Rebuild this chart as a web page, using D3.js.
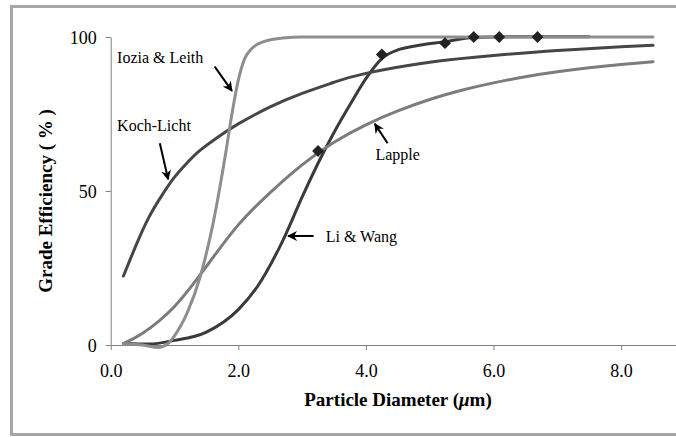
<!DOCTYPE html>
<html>
<head>
<meta charset="utf-8">
<script src="https://cdn.jsdelivr.net/npm/d3@7"></script>
<style>
  html, body { margin: 0; padding: 0; background: #fff; }
  svg { display: block; }
  text { font-family: "Liberation Serif", "DejaVu Serif", "Times New Roman", Times, serif; }
</style>
</head>
<body>
<svg id="chart" width="676" height="437"></svg>
<script>
// ---- data ----
const xTicks = [0, 2, 4, 6, 8];
const yTicks = [0, 50, 100];

const iozia = [[0.2,0.3],[0.5,0],[0.75,-0.8],[0.9,0.5],[1.0,3],[1.2,10.5],[1.4,22],[1.6,39],[1.8,62],[1.9,75],[2.0,86],[2.1,93],[2.2,96],[2.4,98.5],[2.7,99.7],[3.0,100],[4.0,100],[5.0,100],[6.0,100],[7.0,100],[8.0,100],[8.5,100]];
const koch = [[0.2,22.4],[0.4,32.5],[0.6,41.5],[0.8,48.5],[1.0,54.5],[1.2,59.2],[1.4,63.2],[1.7,67.8],[2.0,71.8],[2.5,77.3],[3.0,81.7],[3.5,85.3],[4.0,88.2],[5.0,91.8],[6.0,94],[7.0,95.6],[8.0,96.8],[8.5,97.3]];
const lapple = [[0.2,0.5],[0.5,3.8],[1.0,12.5],[1.5,25.5],[2.0,39],[2.5,49.5],[3.0,58.5],[3.5,65.8],[4.0,71.5],[4.5,76],[5.0,79.7],[5.5,82.7],[6.0,85.1],[6.5,87.1],[7.0,88.7],[7.5,90],[8.0,91.1],[8.5,92]];
const liwang = [[0.2,0.5],[0.6,0.3],[1.0,1.5],[1.5,4.2],[2.0,11.5],[2.3,19],[2.7,34],[3.0,48],[3.25,59],[3.5,69],[3.75,78],[4.0,86.5],[4.25,93],[4.5,95.8],[4.75,97],[5.25,98.5],[5.68,99.8],[6.5,100.1],[7.5,100.1]];
const measured = [[3.25,63],[4.25,94.3],[5.24,98],[5.69,100],[6.09,100],[6.69,100]];

const labels = [
  {text: "Iozia & Leith", x: 0.1, y: 91.6, ax1: 1.63, ay1: 90.4, ax2: 1.9, ay2: 82.5},
  {text: "Koch-Licht", x: 0.1, y: 69.5, ax1: 0.77, ay1: 65.5, ax2: 0.9, ay2: 53.8},
  {text: "Lapple", x: 4.15, y: 60, ax1: 4.34, ay1: 65.5, ax2: 4.14, ay2: 71.8},
  {text: "Li & Wang", x: 3.37, y: 33.4, ax1: 3.18, ay1: 35.4, ax2: 2.78, ay2: 35.4}
];

// ---- chart ----
const svg = d3.select("#chart");
const x = d3.scaleLinear().domain([0, 9]).range([110.7, 110.7 + 9 * 63.8]);
const y = d3.scaleLinear().domain([0, 100]).range([345, 37]);

// outer frame
svg.append("rect").attr("x", 11.5).attr("y", 6.5).attr("width", 720).attr("height", 428)
  .attr("fill", "none").attr("stroke", "#a6a6a6").attr("stroke-width", 3);

// axes
const xAxis = svg.append("g").attr("transform", `translate(0,${y(0)})`)
  .call(d3.axisBottom(x).tickValues(xTicks).tickSize(5).tickSizeOuter(0).tickFormat(d3.format(".1f")));
const yAxis = svg.append("g").attr("transform", `translate(${x(0)},0)`)
  .call(d3.axisLeft(y).tickValues(yTicks).tickSize(5).tickSizeOuter(0));
[xAxis, yAxis].forEach(g => {
  g.attr("font-family", null).attr("font-size", null);
  g.select(".domain").attr("stroke", "#808080");
  g.selectAll(".tick line").attr("stroke", "#808080");
  g.selectAll("text").attr("fill", "#000").style("font-size", "18px");
});
xAxis.selectAll("text").attr("dy", "0").attr("y", 32);
yAxis.selectAll("text").attr("x", -14).attr("dy", "0.34em");

// lines
const lineMono = d3.line().x(d => x(d[0])).y(d => y(d[1])).curve(d3.curveMonotoneX);
const lineNat = d3.line().x(d => x(d[0])).y(d => y(d[1])).curve(d3.curveNatural);
const series = [
  {data: liwang, color: "#3a3a3a", gen: lineMono},
  {data: koch, color: "#464646", gen: lineNat},
  {data: lapple, color: "#7c7c7c", gen: lineNat},
  {data: iozia, color: "#8e8e8e", gen: lineMono}
];
svg.append("g").selectAll("path").data(series).join("path")
  .attr("d", d => d.gen(d.data)).attr("fill", "none")
  .attr("stroke", d => d.color).attr("stroke-width", 3).attr("stroke-linecap", "round");

// measured points (diamonds)
svg.append("g").selectAll("path").data(measured).join("path")
  .attr("transform", d => `translate(${x(d[0])},${y(d[1])})`)
  .attr("d", d3.symbol(d3.symbolDiamond2, 90)())
  .attr("fill", "#222");

// annotations
const defs = svg.append("defs");
defs.append("marker").attr("id", "ah").attr("viewBox", "0 0 10 10").attr("refX", 9).attr("refY", 5)
  .attr("markerWidth", 5).attr("markerHeight", 5).attr("orient", "auto-start-reverse")
  .attr("markerUnits", "strokeWidth")
  .append("path").attr("d", "M0,0 L10,5 L0,10 L3,5 Z").attr("fill", "#000");

const ann = svg.append("g");
ann.selectAll("line").data(labels).join("line")
  .attr("x1", d => x(d.ax1)).attr("y1", d => y(d.ay1))
  .attr("x2", d => x(d.ax2)).attr("y2", d => y(d.ay2))
  .attr("stroke", "#000").attr("stroke-width", 2).attr("marker-end", "url(#ah)");
ann.selectAll("text").data(labels).join("text")
  .attr("x", d => x(d.x)).attr("y", d => y(d.y)).text(d => d.text)
  .style("font-size", "16px").attr("fill", "#000");

// axis titles
const xt = svg.append("text").attr("x", 398).attr("y", 406).attr("text-anchor", "middle")
  .style("font-size", "19px").style("font-weight", "bold");
xt.append("tspan").text("Particle Diameter (");
xt.append("tspan").text("μ").style("font-style", "italic");
xt.append("tspan").text("m)");

svg.append("text").attr("transform", "translate(52,201) rotate(-90)").attr("text-anchor", "middle")
  .style("font-size", "19px").style("font-weight", "bold")
  .text("Grade Efficiency ( % )");
</script>
</body>
</html>
